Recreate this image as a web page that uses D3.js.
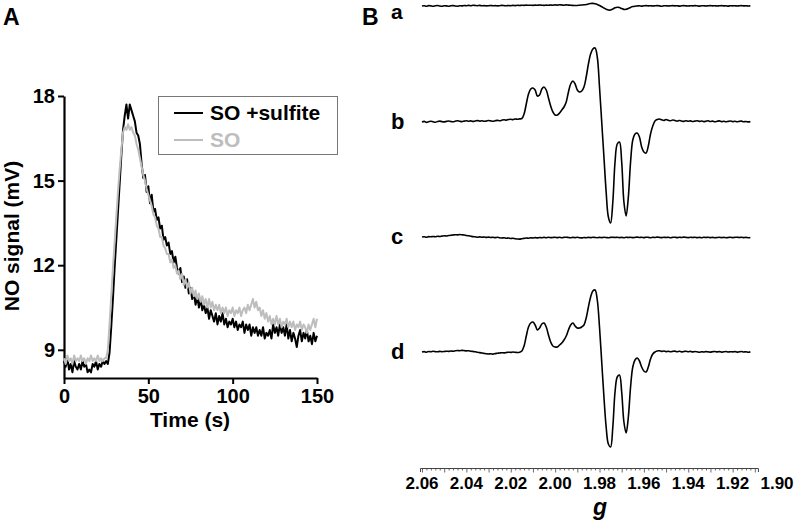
<!DOCTYPE html>
<html><head><meta charset="utf-8">
<script src="https://cdn.jsdelivr.net/npm/d3@7"></script>
<style>
body{margin:0;background:#fff}
svg{display:block}
text{font-family:"Liberation Sans",Arial,Helvetica,sans-serif;font-weight:bold;fill:#000}
</style>
</head><body>
<svg id="chart" width="800" height="530"></svg>
<script>
// ---------- Panel A data (NO signal, mV, sampled each second 0..150 s) ----------
const timeSec = d3.range(0, 151);
const seriesNames = ["SO +sulfite", "SO"];
const soSulfite = [
 8.6,8.4,8.7,8.3,8.5,8.2,8.6,8.4,8.3,8.5,
 8.3,8.6,8.4,8.5,8.2,8.3,8.2,8.5,8.4,8.6,
 8.3,8.5,8.4,8.6,8.5,8.6,8.5,8.9,9.8,10.8,
 11.9,12.9,13.9,14.9,15.9,16.8,17.3,17.7,17.2,17.7,
 17.5,17.3,17.1,16.7,16.6,16.3,15.6,15.1,15.2,14.6,
 14.8,14.2,14.5,13.9,14.0,13.6,13.7,13.3,13.4,12.9,
 13.0,12.7,12.8,12.4,12.5,12.1,12.3,11.9,11.7,11.9,
 11.4,11.6,11.2,11.5,11.0,11.2,10.8,11.0,10.6,10.9,
 10.5,10.8,10.4,10.6,10.3,10.5,10.1,10.4,10.2,10.0,
 10.3,9.9,10.2,10.0,10.3,9.9,10.1,9.8,10.0,9.9,
 10.1,9.8,10.0,9.7,9.9,9.8,10.0,9.6,9.9,9.7,
 9.9,9.5,9.8,9.6,9.8,9.5,9.7,9.5,9.8,9.4,
 9.6,9.5,9.7,9.4,9.9,9.6,9.8,9.5,9.9,9.6,
 9.8,9.5,9.9,9.4,9.7,9.3,9.6,9.4,9.1,9.5,
 9.7,9.3,9.6,9.4,9.7,9.3,9.5,9.2,9.6,9.3,9.5
];
const soOnly = [
 8.7,8.5,8.8,8.6,8.7,8.5,8.8,8.6,8.7,8.6,
 8.8,8.6,8.7,8.5,8.7,8.6,8.8,8.6,8.7,8.6,
 8.8,8.6,8.7,8.6,8.7,8.7,9.0,9.9,10.9,11.9,
 12.8,13.7,14.6,15.4,16.1,16.7,16.9,16.8,17.0,16.8,
 16.9,16.7,16.6,16.3,16.1,15.8,15.5,15.2,15.0,14.7,
 14.5,14.3,14.1,13.8,13.7,13.4,13.3,13.0,13.0,12.7,
 12.6,12.4,12.4,12.1,12.2,11.9,12.0,11.7,11.8,11.5,
 11.7,11.3,11.5,11.2,11.4,11.0,11.2,10.9,11.1,10.8,
 11.0,10.7,10.9,10.6,10.8,10.5,10.8,10.5,10.7,10.4,
 10.6,10.4,10.6,10.3,10.5,10.3,10.5,10.2,10.4,10.3,
 10.5,10.2,10.4,10.3,10.5,10.2,10.4,10.5,10.3,10.6,
 10.4,10.6,10.8,10.5,10.7,10.4,10.5,10.2,10.4,10.1,
 10.3,10.0,10.2,9.9,10.1,9.9,10.2,9.9,10.1,9.8,
 10.0,9.9,10.1,9.8,10.0,9.8,10.0,9.7,9.9,9.8,
 10.0,9.7,9.9,9.8,9.6,9.9,9.7,9.9,10.1,9.8,10.1
];
const yTicksA = [9, 12, 15, 18];
const xTicksA = [0, 50, 100, 150];

// ---------- Panel B data (EPR spectra, g grid 2.060 -> 1.912, step 0.001) ----------
const gGrid = d3.range(149).map(i => +(2.060 - 0.001 * i).toFixed(3));
const traceLabels = ["a", "b", "c", "d"];
const eprA = [
 0,0.3,-0.2,0.4,0.1,-0.3,0.2,0.5,0,-0.2,
 0.3,0.1,-0.3,0.2,0.4,0,-0.2,0.3,0.1,0.5,
 0.2,0.6,0.3,0.8,0.5,0.3,0.6,0.2,0.4,0.1,
 0.3,0.5,0.2,0.4,0.1,0.3,0.6,0.4,0.2,0.5,
 0.3,0.6,0.4,0.7,0.5,0.8,0.6,0.9,0.7,0.8,
 0.6,0.9,0.7,1.0,0.8,0.6,0.9,0.7,1.0,0.8,
 1.1,0.9,1.2,1.0,0.8,1.1,0.9,0.7,0.6,0.5,
 0.5,0.8,1.0,1.2,1.5,2.0,2.5,2.6,2.2,1.5,
 0.5,-0.8,-2.0,-3.2,-4.0,-4.0,-3.0,-1.8,-1.2,-1.6,
 -2.6,-3.4,-3.3,-2.4,-1.4,-0.6,-0.2,0,0.2,-0.1,
 0.2,0.4,0.1,0.3,0,0.2,0.4,0.1,-0.2,0.2,
 0.3,0,0.2,0.4,0.1,0.3,-0.1,0.2,0.4,0.1,
 0,0.3,0.1,0.4,0.2,-0.1,0.2,0.3,0,0.2,
 0.4,0.1,0.3,0,0.2,0.4,0.1,0.2,-0.1,0.3,
 0.1,0.3,0,0.2,0.4,0.1,0.2,0,0.1
];
const eprB = [
 0,0.6,-0.4,0.3,0.8,0.2,-0.3,0.5,0.9,0.4,
 0.1,0.6,1.0,0.5,0.2,0.8,1.2,0.7,0.4,0.9,
 1.3,0.8,1.1,0.6,1.0,1.4,0.9,1.2,0.7,1.0,
 1.5,1.1,0.8,1.3,1.6,1.2,1.8,2.2,1.9,2.5,
 2.8,2.4,3.0,2.7,3.1,3.5,8,18,28,33,
 34,32,26,27,33,35,32,24,16,10,
 7,7,9,12,15,20,30,38,41,38,
 32,30,31,35,45,58,68,73,74,65,
 35,0,-35,-70,-95,-101,-80,-40,-22,-20,
 -40,-80,-94,-75,-40,-18,-12,-11,-15,-25,
 -30,-31,-24,-12,-4,1,2.5,3,2.2,1.5,
 2.5,1.8,1.2,2.0,1.4,0.8,1.5,1.0,0.6,1.2,
 0.7,1.1,0.5,0.9,1.3,0.6,1.0,0.4,0.8,1.2,
 0.5,0.9,0.3,0.7,1.1,0.4,0.8,0.2,0.6,1.0,
 0.4,0.7,0.2,0.6,0.9,0.3,0.5,0.1,0.4
];
const eprC = [
 0,0.3,-0.2,0.4,0.2,0.5,0.3,0.7,0.5,0.9,
 1.2,1.0,1.5,1.8,2.0,2.3,2.1,2.5,2.2,2.0,
 1.5,1.2,0.8,0.4,0.2,-0.2,0.1,-0.3,0,-0.4,
 -0.1,-0.5,-0.2,-0.6,-0.3,-0.8,-1.0,-0.7,-1.2,-1.0,
 -1.5,-1.3,-1.8,-2.0,-2.1,-1.7,-1.4,-1.0,-1.2,-0.8,
 -1.0,-0.6,-0.9,-0.5,-0.8,-0.4,-0.7,-0.3,-0.6,-0.5,
 -0.2,-0.6,-0.3,-0.7,-0.4,-0.2,-0.5,-0.8,-0.4,-0.6,
 -0.3,-0.7,-0.9,-0.5,-0.8,-0.4,-0.6,-0.2,-0.5,-0.7,
 -0.4,-0.6,-0.3,-0.5,-0.8,-0.4,-0.2,-0.5,-0.3,-0.6,
 -0.4,-0.7,-0.3,-0.5,-0.2,-0.6,-0.4,-0.1,-0.5,-0.3,
 -0.6,-0.2,-0.4,-0.7,-0.3,-0.5,-0.1,-0.4,-0.6,-0.2,
 -0.5,-0.3,-0.7,-0.4,-0.2,-0.6,-0.3,-0.5,-0.1,-0.4,
 -0.6,-0.3,-0.5,-0.2,-0.6,-0.4,-0.7,-0.3,-0.5,-0.2,
 -0.6,-0.4,-0.8,-0.5,-0.3,-0.6,-0.4,-0.7,-0.5,-0.3,
 -0.6,-0.4,-0.2,-0.5,-0.3,-0.6,-0.4,-0.7,-0.5
];
const eprD = [
 0,0.4,-0.2,0.5,0.3,0.7,0.4,0.2,0.6,0.3,
 0.5,0.8,0.6,1.0,0.7,1.2,1.5,1.3,1.6,1.4,
 1.1,1.3,0.8,0.5,0.2,-0.3,-0.6,-1.0,-1.4,-1.8,
 -2.0,-1.7,-2.1,-1.6,-1.3,-1.0,-0.7,-0.9,-0.5,-0.2,
 -0.4,0,-0.3,-0.5,-0.2,1,6,16,25,29,
 30,27,22,24,28,29,25,17,10,6,
 5,5,7,9,12,16,22,27,29,26,
 24,24,25,27,34,45,55,61,62,52,
 25,-10,-45,-75,-92,-95,-75,-40,-25,-23,
 -40,-70,-81,-65,-35,-15,-8,-6,-9,-15,
 -19,-20,-15,-7,-2,0,1,1.2,0.6,1.0,
 0.4,0.8,0.2,0.6,0.9,0.3,0.7,0.1,0.5,0.8,
 0.3,0.6,0.1,0.5,0.2,-0.2,0.3,0,0.4,0.1,
 -0.1,0.3,0.5,0.1,0.4,-0.1,0.2,0.5,0,0.3,
 0.1,0.4,-0.1,0.2,0.5,0,0.3,-0.2,0.1
];
const gTickLabels = [2.06, 2.04, 2.02, 2.00, 1.98, 1.96, 1.94, 1.92, 1.90];

// ---------- drawing ----------
const svg = d3.select("#chart");

// Panel A
const xA = d3.scaleLinear().domain([0, 150]).range([64, 317]);
const yA = d3.scaleLinear().domain([8, 18]).range([378, 96]);
const gA = svg.append("g");

const axXA = gA.append("g").attr("transform", `translate(0,${yA(8)})`)
  .call(d3.axisBottom(xA).tickValues(xTicksA).tickSize(6).tickSizeOuter(0).tickPadding(5));
const axYA = gA.append("g").attr("transform", `translate(${xA(0)},0)`)
  .call(d3.axisLeft(yA).tickValues(yTicksA).tickSize(6).tickSizeOuter(0).tickPadding(3));
[axXA, axYA].forEach(a => {
  a.attr("font-size", null).attr("font-family", null);
  a.selectAll("path.domain").attr("stroke", "#000").attr("stroke-width", 2.2);
  a.selectAll(".tick line").attr("stroke", "#000").attr("stroke-width", 2);
  a.selectAll(".tick text").attr("font-size", 20).style("font-size", "20px").attr("fill", "#000");
});

const lineA = d3.line().x((d, i) => xA(timeSec[i])).y(d => yA(d));
gA.append("path").datum(soSulfite).attr("d", lineA)
  .attr("fill", "none").attr("stroke", "#000").attr("stroke-width", 2).attr("stroke-linejoin", "round");
gA.append("path").datum(soOnly).attr("d", lineA)
  .attr("fill", "none").attr("stroke", "#bdbdbd").attr("stroke-width", 2).attr("stroke-linejoin", "round");

gA.append("text").attr("x", 190).attr("y", 427).attr("text-anchor", "middle")
  .attr("font-size", 21).style("font-size", "21px").text("Time (s)");
gA.append("text").attr("transform", "translate(19,236) rotate(-90)").attr("text-anchor", "middle")
  .attr("font-size", 21).style("font-size", "21px").text("NO signal (mV)");

// legend
const leg = gA.append("g");
leg.append("rect").attr("x", 158.5).attr("y", 96.5).attr("width", 179).attr("height", 58)
  .attr("fill", "#fff").attr("stroke", "#777").attr("stroke-width", 1);
const legColors = ["#000", "#bdbdbd"];
seriesNames.forEach((n, i) => {
  const yy = 113 + i * 27;
  leg.append("line").attr("x1", 174).attr("x2", 203).attr("y1", yy).attr("y2", yy)
    .attr("stroke", legColors[i]).attr("stroke-width", 2);
  leg.append("text").attr("x", 210).attr("y", yy + 7).attr("font-size", 21).style("font-size", "21px")
    .style("fill", legColors[i]).text(n);
});

// panel letters
svg.append("text").attr("x", 3).attr("y", 25).attr("font-size", 23).style("font-size", "23px").text("A");
svg.append("text").attr("x", 362).attr("y", 25).attr("font-size", 23).style("font-size", "23px").text("B");

// Panel B
const xB = d3.scaleLinear().domain([2.06, 1.90]).range([422, 777]);
const amp = d3.scaleLinear().domain([0, 1]).range([0, -1]);
const baselines = [6, 122, 237, 352];
const labelDy = [13, 7, 7, 7];
const labelSize = [21, 22, 22, 22];
const traces = [eprA, eprB, eprC, eprD];
const gB = svg.append("g");
traces.forEach((tr, k) => {
  const line = d3.line().curve(d3.curveCatmullRom.alpha(0.5))
    .x((d, i) => xB(gGrid[i])).y(d => baselines[k] + amp(d));
  gB.append("path").datum(tr).attr("d", line)
    .attr("fill", "none").attr("stroke", "#000").attr("stroke-width", 1.6);
  gB.append("text").attr("x", 391).attr("y", baselines[k] + labelDy[k])
    .attr("font-size", labelSize[k]).style("font-size", labelSize[k] + "px").text(traceLabels[k]);
});

// g axis
const axisScale = xB.copy().domain([2.0609, 1.9086]).range([xB(2.0609), xB(1.9086)]);
const minorTicks = d3.range(0, 76).map(i => +(2.060 - 0.002 * i).toFixed(3));
const axG = gB.append("g").attr("transform", "translate(0,468)")
  .call(d3.axisBottom(axisScale).tickValues(minorTicks).tickSize(2.5).tickSizeOuter(4).tickFormat(""));
axG.selectAll("path.domain").attr("stroke", "#444").attr("stroke-width", 1);
axG.selectAll(".tick line").attr("stroke", "#444").attr("stroke-width", 0.8)
  .attr("y2", d => (Math.round(d * 1000) % 10 === 0 ? 4.5 : 2.5));
gB.selectAll("text.glab").data(gTickLabels).enter().append("text").attr("class", "glab")
  .attr("x", d => xB(d)).attr("y", 489).attr("text-anchor", "middle")
  .attr("font-size", 17).style("font-size", "17px").text(d => d.toFixed(2));
gB.append("text").attr("x", 600).attr("y", 515).attr("text-anchor", "middle")
  .attr("font-size", 23).style("font-size", "23px").style("font-style", "italic").text("g");
</script>
</body></html>
